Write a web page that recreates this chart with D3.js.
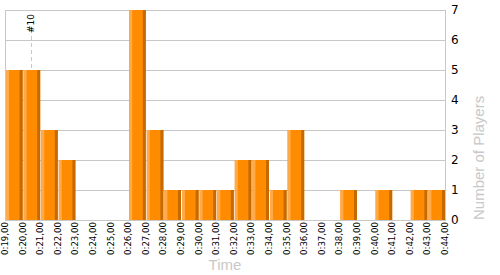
<!DOCTYPE html>
<html>
<head>
<meta charset="utf-8">
<script src="https://cdn.jsdelivr.net/npm/d3@7.9.0/dist/d3.min.js"></script>
<style>
  body { margin: 0; background: #fff; }
  svg { display: block; }
</style>
</head>
<body>
<svg id="chart" width="500" height="275"></svg>
<script>
// one bar per minute bucket
const minutes = ['0:19', '0:20', '0:21', '0:22', '0:23', '0:24', '0:25', '0:26', '0:27', '0:28',
  '0:29', '0:30', '0:31', '0:32', '0:33', '0:34', '0:35', '0:36', '0:37', '0:38',
  '0:39', '0:40', '0:41', '0:42', '0:43'];
const players = [5, 5, 3, 2, 0, 0, 0, 7, 3, 1, 1, 1, 1, 2, 2, 1, 3, 0, 0, 1, 0, 1, 0, 1, 1];
// tick labels sit on the bucket edges
const edgeLabels = ['0:19,00', '0:20,00', '0:21,00', '0:22,00', '0:23,00', '0:24,00', '0:25,00',
  '0:26,00', '0:27,00', '0:28,00', '0:29,00', '0:30,00', '0:31,00', '0:32,00', '0:33,00',
  '0:34,00', '0:35,00', '0:36,00', '0:37,00', '0:38,00', '0:39,00', '0:40,00', '0:41,00',
  '0:42,00', '0:43,00', '0:44,00'];
const yTicks = [0, 1, 2, 3, 4, 5, 6, 7];
const marker = { minute: '0:20', label: '#10' };

const svg = d3.select('#chart');
const plotLeft = 5, plotRight = 445, plotTop = 10, plotBottom = 220;

const x = d3.scaleBand().domain(minutes).range([plotLeft, plotRight]).padding(0);
const xEdge = d3.scalePoint().domain(edgeLabels).range([plotLeft, plotRight]);
const y = d3.scaleLinear().domain([0, 7]).range([plotBottom, plotTop]);

// gridlines
svg.append('g')
  .selectAll('line')
  .data(yTicks)
  .join('line')
  .attr('x1', plotLeft).attr('x2', plotRight)
  .attr('y1', d => Math.round(y(d)) + 0.5).attr('y2', d => Math.round(y(d)) + 0.5)
  .attr('stroke', '#c8c8c8');

// side borders
[plotLeft, plotRight].forEach(px => {
  svg.append('line')
    .attr('x1', px + 0.5).attr('x2', px + 0.5)
    .attr('y1', plotTop).attr('y2', plotBottom + 1)
    .attr('stroke', '#c8c8c8');
});

// marker line + label
const mx = x(marker.minute) + x.bandwidth() / 2;
const mi = minutes.indexOf(marker.minute);
svg.append('line')
  .attr('x1', Math.round(mx) + 0.5).attr('x2', Math.round(mx) + 0.5)
  .attr('y1', 29).attr('y2', y(players[mi]))
  .attr('stroke', '#c8c8c8')
  .attr('stroke-dasharray', '4,3');
svg.append('text')
  .attr('transform', `translate(${mx + 2.5},14) rotate(-90)`)
  .attr('text-anchor', 'end')
  .attr('font-family', 'DejaVu Sans, Verdana, sans-serif')
  .attr('font-size', 9)
  .attr('fill', '#000')
  .text(marker.label);

// bars: light strip, body, dark strip
const bars = svg.append('g')
  .selectAll('g')
  .data(minutes.map((m, i) => ({ m, v: players[i] })).filter(d => d.v > 0))
  .join('g');

const bw = x.bandwidth() - 1;
bars.append('rect')
  .attr('x', d => x(d.m) + 1)
  .attr('y', d => y(d.v))
  .attr('width', bw)
  .attr('height', d => y(0) - y(d.v))
  .attr('fill', '#ff8c00');
bars.append('rect')
  .attr('x', d => x(d.m) + 1)
  .attr('y', d => y(d.v))
  .attr('width', 3)
  .attr('height', d => y(0) - y(d.v))
  .attr('fill', '#ffaa4a');
bars.append('rect')
  .attr('x', d => x(d.m) + 1 + bw - 3)
  .attr('y', d => y(d.v))
  .attr('width', 3)
  .attr('height', d => y(0) - y(d.v))
  .attr('fill', '#c46a00');

// x tick labels, rotated
svg.append('g')
  .selectAll('text')
  .data(edgeLabels)
  .join('text')
  .attr('transform', d => `translate(${xEdge(d) + 3},222) rotate(-90)`)
  .attr('text-anchor', 'end')
  .attr('font-family', 'DejaVu Sans, Verdana, sans-serif')
  .attr('font-size', 8.6)
  .attr('fill', '#000')
  .text(d => d);

// y axis on the right
const yAxis = svg.append('g')
  .attr('transform', `translate(${plotRight},0)`)
  .call(d3.axisRight(y).tickValues(yTicks).tickSize(0).tickPadding(6).tickFormat(d3.format('d')));
yAxis.select('.domain').remove();
yAxis.selectAll('text')
  .attr('font-family', 'DejaVu Sans, Verdana, sans-serif')
  .attr('font-size', 12)
  .attr('fill', '#000');

// axis titles
svg.append('text')
  .attr('x', (plotLeft + plotRight) / 2)
  .attr('y', 270)
  .attr('text-anchor', 'middle')
  .attr('font-family', 'Liberation Sans, Arial, sans-serif')
  .attr('font-size', 15)
  .attr('fill', '#c8c8c8')
  .text('Time');
svg.append('text')
  .attr('transform', `translate(484,${plotBottom}) rotate(-90)`)
  .attr('text-anchor', 'start')
  .attr('font-family', 'Liberation Sans, Arial, sans-serif')
  .attr('font-size', 15)
  .attr('fill', '#c8c8c8')
  .text('Number of Players');
</script>
</body>
</html>
